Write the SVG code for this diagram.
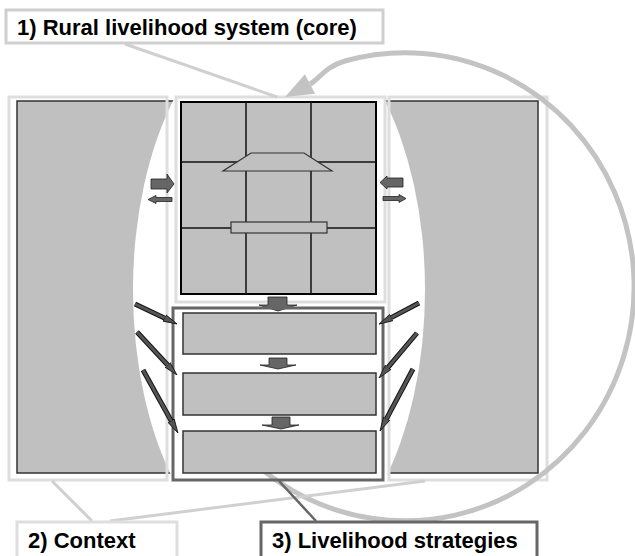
<svg xmlns="http://www.w3.org/2000/svg" width="635" height="556" viewBox="0 0 635 556">
<defs>
<style>
.panel{fill:#c0c0c0;stroke:#333;stroke-width:1.5}
.lframe{fill:none;stroke:#dedede;stroke-width:3}
.grid{stroke:#111;stroke-width:1.5}
.box{fill:#c0c0c0;stroke:#333;stroke-width:1.5}
.blk{fill:#666;stroke:#222;stroke-width:0.8}
.dout{stroke:#111;stroke-width:5;fill:none}
.din{stroke:#555;stroke-width:3;fill:none;marker-end:url(#ah)}
.lbl{font-family:"Liberation Sans",Arial,sans-serif;font-weight:bold;font-size:22px;fill:#000}
.lead{fill:none;stroke:#d0d0d0;stroke-width:3}
</style>
<marker id="ah" viewBox="0 0 14 10" refX="4" refY="5" markerWidth="14" markerHeight="10" markerUnits="userSpaceOnUse" orient="auto">
<path d="M0,1.5 L14,5 L0,8.5 z" fill="#555" stroke="#111" stroke-width="0.8"/>
</marker>
</defs>

<g id="background">
<rect class="panel" x="17" y="101" width="521" height="372"/>
<ellipse cx="279" cy="290" rx="146" ry="275" fill="#fff"/>
</g>

<g id="context-left"><rect class="lframe" x="9" y="97" width="158" height="383"/></g>
<g id="context-right"><rect class="lframe" x="389" y="97" width="158" height="383"/></g>

<g id="core">
<rect class="lframe" x="176" y="97" width="209" height="205"/>
<rect x="181" y="102" width="195" height="192" fill="#c0c0c0" stroke="#000" stroke-width="2"/>
<line class="grid" x1="246" y1="102" x2="246" y2="294"/>
<line class="grid" x1="311" y1="102" x2="311" y2="294"/>
<line class="grid" x1="181" y1="162" x2="376" y2="162"/>
<line class="grid" x1="181" y1="228" x2="376" y2="228"/>
<polygon points="251,153 304,153 332,171 223,171" fill="#c0c0c0" stroke="#333" stroke-width="1.2"/>
<rect x="231" y="222" width="96" height="11" fill="#c0c0c0" stroke="#333" stroke-width="1.2"/>
</g>

<g id="cycle">
<path d="M232,440 A229,234 0 1 0 345,61 C325,66.6 318.9,79.4 310,84" fill="none" stroke="#c3c3c3" stroke-width="5"/>
<polygon points="285,97 304.9,74.2 315.1,93.8" fill="#c3c3c3"/>
</g>

<g id="strategies">
<polygon class="blk" points="268,297 287,297 287,305 297,305 278,311 259,305 268,305"/>
<rect x="173" y="308" width="210" height="172" fill="none" stroke="#666" stroke-width="3"/>
<rect class="box" x="183" y="313" width="193" height="41"/>
<rect class="box" x="183" y="373" width="193" height="42"/>
<rect class="box" x="183" y="431" width="193" height="42"/>
<polygon class="blk" points="269,358 287,358 287,365 296,365 278,369 260,365 269,365"/>
<polygon class="blk" points="272,417 290,417 290,425 299,425 281,429 262,425 272,425"/>
</g>

<g id="connectors">
<polygon class="blk" points="151,179 167,179 167,174 174,184 167,193 167,189 151,189"/>
<polygon class="blk" points="148,199.5 156,195.5 156,197.5 172,197.5 172,201.5 156,201.5 156,203.5"/>
<polygon class="blk" points="380,182.5 387,176 387,178 403,178 403,187 387,187 387,189"/>
<polygon class="blk" points="383,196.5 399,196.5 399,194.5 406,198.5 399,202.5 399,200.5 383,200.5"/>
<line class="dout" x1="135" y1="304" x2="168" y2="319.7"/>
<line class="din" x1="135" y1="304" x2="168" y2="319.7"/>
<line class="dout" x1="137" y1="332" x2="170.2" y2="367.7"/>
<line class="din" x1="137" y1="332" x2="170.2" y2="367.7"/>
<line class="dout" x1="143" y1="370" x2="173.1" y2="424.3"/>
<line class="din" x1="143" y1="370" x2="173.1" y2="424.3"/>
<line class="dout" x1="419" y1="303" x2="387.9" y2="319.4"/>
<line class="din" x1="419" y1="303" x2="387.9" y2="319.4"/>
<line class="dout" x1="417" y1="333" x2="385.5" y2="370.4"/>
<line class="din" x1="417" y1="333" x2="385.5" y2="370.4"/>
<line class="dout" x1="413" y1="369" x2="384.7" y2="422.2"/>
<line class="din" x1="413" y1="369" x2="384.7" y2="422.2"/>
<line class="lead" x1="125" y1="44" x2="277" y2="97"/>
<line class="lead" x1="92" y1="521" x2="52" y2="481"/>
<line class="lead" x1="110" y1="521" x2="425" y2="481"/>
<line x1="279" y1="481" x2="316" y2="521" stroke="#666" stroke-width="2.5"/>
</g>

<g id="label-core">
<rect x="6" y="10" width="377" height="33" fill="#fff" stroke="#cfcfcf" stroke-width="3"/>
<text class="lbl" x="17" y="35">1) Rural livelihood system (core)</text>
</g>
<g id="label-context">
<rect x="17" y="522" width="160" height="40" fill="#fff" stroke="#dedede" stroke-width="3"/>
<text class="lbl" x="28" y="548">2) Context</text>
</g>
<g id="label-strategies">
<rect x="261" y="522" width="276" height="40" fill="#fff" stroke="#666" stroke-width="3"/>
<text class="lbl" x="272" y="548">3) Livelihood strategies</text>
</g>
</svg>
